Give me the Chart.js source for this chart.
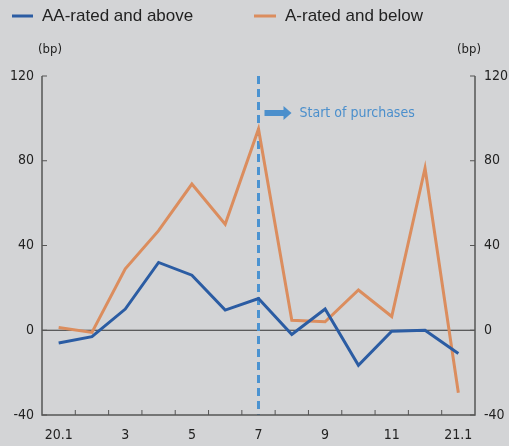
<!DOCTYPE html>
<html>
<head>
<meta charset="utf-8">
<script src="https://cdn.jsdelivr.net/npm/chart.js@4/dist/chart.umd.min.js"></script>
<style>
  html, body { margin: 0; padding: 0; background: #d3d4d6; }
  #wrap { position: relative; width: 509px; height: 446px; }
</style>
</head>
<body>
<div id="wrap"><canvas id="grafico" width="509" height="446"></canvas></div>
<script>
// meses 2020.1 - 2021.1
const meses = ['20.1', '2', '3', '4', '5', '6', '7', '8', '9', '10', '11', '12', '21.1'];
const etiquetasVisibles = ['20.1', '3', '5', '7', '9', '11', '21.1'];
const aaYSuperior = [-6, -3, 10, 32, 26, 9.5, 15, -2, 10, -16.5, -0.5, 0, -11];
const aYInferior = [1.3, -1, 29, 47, 69, 50, 95, 4.7, 4, 19, 6.5, 76.5, -29.5];
const ticksY = [-40, 0, 40, 80, 120];
const mesInicioCompras = '7';

const fuenteNarrow = '"Liberation Sans Narrow", "DejaVu Sans Condensed", "Liberation Sans", sans-serif';
const fuente = '"Liberation Sans", Arial, sans-serif';
const colorAzul = '#2b5ca3';
const colorNaranja = '#db8d5e';
const colorEje = '#555555';

// Plugin para ejes, marcas hacia dentro, leyenda y anotacion
const dibujoExtra = {
    id: 'dibujoExtra',
    beforeDatasetsDraw(chart) {
        const ctx = chart.ctx;
        const area = chart.chartArea;
        const y = chart.scales.y;
        ctx.save();
        // linea del cero
        ctx.strokeStyle = '#333333';
        ctx.lineWidth = 1.2;
        ctx.beginPath();
        ctx.moveTo(area.left, y.getPixelForValue(0));
        ctx.lineTo(area.right, y.getPixelForValue(0));
        ctx.stroke();
        // linea discontinua: inicio de compras
        const xc = chart.scales.x.getPixelForValue(meses.indexOf(mesInicioCompras));
        ctx.strokeStyle = '#4b93d1';
        ctx.lineWidth = 3;
        ctx.setLineDash([8, 5]);
        ctx.beginPath();
        ctx.moveTo(xc, area.top);
        ctx.lineTo(xc, area.bottom);
        ctx.stroke();
        ctx.setLineDash([]);
        ctx.restore();
    },
    afterDraw(chart) {
        const ctx = chart.ctx;
        const area = chart.chartArea;
        const y = chart.scales.y;
        const x = chart.scales.x;
        ctx.save();
        // ejes
        ctx.strokeStyle = colorEje;
        ctx.lineWidth = 1.5;
        ctx.beginPath();
        ctx.moveTo(area.left, area.top);
        ctx.lineTo(area.left, area.bottom);
        ctx.lineTo(area.right, area.bottom);
        ctx.lineTo(area.right, area.top);
        ctx.stroke();
        // marcas Y hacia dentro
        ctx.lineWidth = 1;
        ticksY.forEach(v => {
            const py = y.getPixelForValue(v);
            ctx.beginPath();
            ctx.moveTo(area.left, py);
            ctx.lineTo(area.left + 5, py);
            ctx.moveTo(area.right, py);
            ctx.lineTo(area.right - 5, py);
            ctx.stroke();
        });
        // marcas X entre meses
        for (let i = 1; i < meses.length; i++) {
            const px = (x.getPixelForValue(i - 1) + x.getPixelForValue(i)) / 2;
            ctx.beginPath();
            ctx.moveTo(px, area.bottom);
            ctx.lineTo(px, area.bottom - 5);
            ctx.stroke();
        }
        // unidades
        ctx.fillStyle = '#222222';
        ctx.font = '13px ' + fuenteNarrow;
        ctx.textBaseline = 'middle';
        ctx.textAlign = 'left';
        ctx.fillText('(bp)', 38, 50);
        ctx.fillText('(bp)', 457, 50);
        // leyenda
        ctx.font = '17px ' + fuente;
        ctx.lineWidth = 3;
        ctx.strokeStyle = colorAzul;
        ctx.beginPath(); ctx.moveTo(12, 16); ctx.lineTo(33, 16); ctx.stroke();
        ctx.fillText('AA-rated and above', 42, 16);
        ctx.strokeStyle = colorNaranja;
        ctx.beginPath(); ctx.moveTo(254, 16); ctx.lineTo(276, 16); ctx.stroke();
        ctx.fillText('A-rated and below', 285, 16);
        // flecha y texto
        const xc = x.getPixelForValue(meses.indexOf(mesInicioCompras));
        ctx.fillStyle = '#4b8fcc';
        ctx.fillRect(xc + 6, 110, 20, 6);
        ctx.beginPath();
        ctx.moveTo(xc + 25, 106);
        ctx.lineTo(xc + 33, 113);
        ctx.lineTo(xc + 25, 120);
        ctx.closePath();
        ctx.fill();
        ctx.font = '14px ' + fuenteNarrow;
        ctx.fillText('Start of purchases', xc + 41, 113);
        ctx.restore();
    }
};

new Chart(document.getElementById('grafico').getContext('2d'), {
    type: 'line',
    data: {
        labels: meses,
        datasets: [{
            label: 'AA-rated and above',
            data: aaYSuperior,
            borderColor: colorAzul,
            borderWidth: 3,
            pointRadius: 0,
            tension: 0,
            yAxisID: 'y'
        }, {
            label: 'A-rated and below',
            data: aYInferior,
            borderColor: colorNaranja,
            borderWidth: 3,
            pointRadius: 0,
            tension: 0,
            yAxisID: 'y'
        }]
    },
    options: {
        responsive: false,
        animation: false,
        layout: { padding: { top: 76, left: 0, right: 0, bottom: 0 } },
        plugins: { legend: { display: false }, tooltip: { enabled: false } },
        scales: {
            x: {
                offset: true,
                grid: { display: false },
                border: { display: false },
                ticks: {
                    autoSkip: false,
                    maxRotation: 0,
                    padding: 4,
                    color: '#222222',
                    font: { family: fuenteNarrow, size: 14 },
                    callback: function(val, i) {
                        const et = meses[i];
                        return etiquetasVisibles.includes(et) ? et : '';
                    }
                },
                afterFit: s => { s.height = 31; }
            },
            y: {
                position: 'left',
                min: -40, max: 120,
                grid: { display: false, drawTicks: false },
                border: { display: false },
                ticks: {
                    stepSize: 40,
                    padding: 8,
                    color: '#222222',
                    font: { family: fuenteNarrow, size: 14 }
                },
                afterFit: s => { s.width = 42; }
            },
            y2: {
                position: 'right',
                min: -40, max: 120,
                grid: { display: false, drawTicks: false },
                border: { display: false },
                ticks: {
                    stepSize: 40,
                    padding: 9,
                    color: '#222222',
                    font: { family: fuenteNarrow, size: 14 }
                },
                afterFit: s => { s.width = 34; }
            }
        }
    },
    plugins: [dibujoExtra]
});
</script>
</body>
</html>
